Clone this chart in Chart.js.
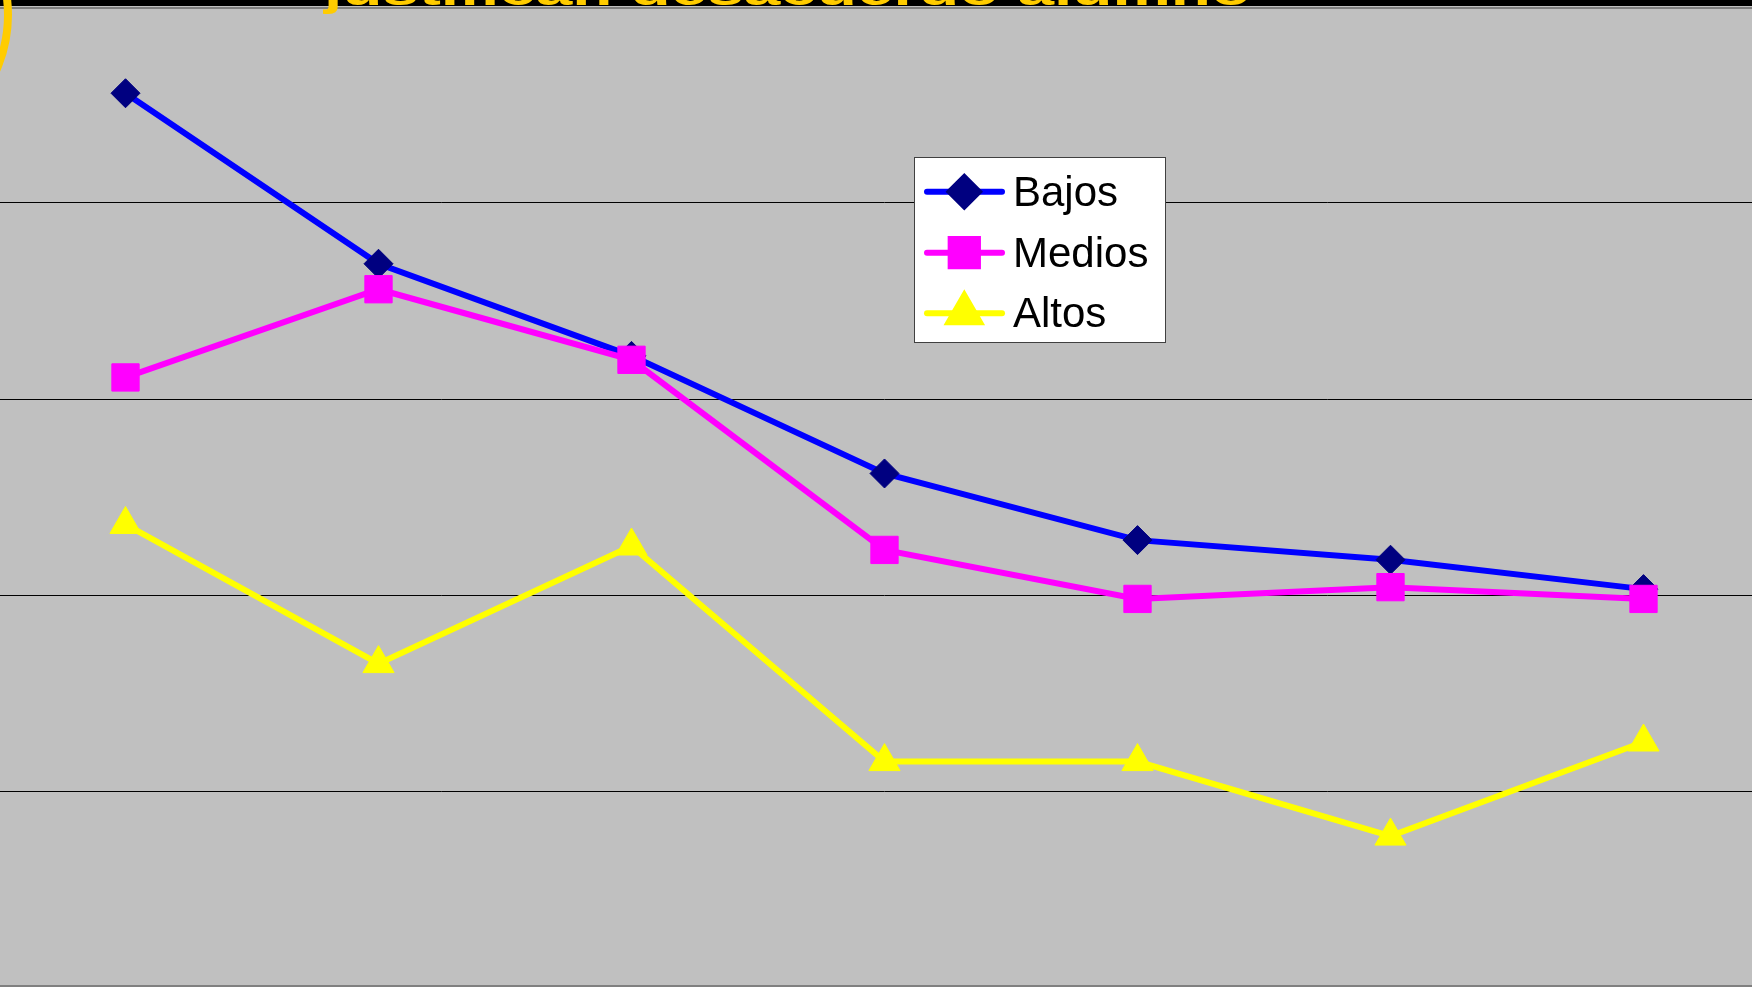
<!DOCTYPE html>
<html>
<head>
<meta charset="utf-8">
<script src="https://cdn.jsdelivr.net/npm/chart.js@4.4.1/dist/chart.umd.min.js"></script>
<style>
  html, body { margin:0; padding:0; background:#c0c0c0; width:1752px; height:987px; overflow:hidden; position:relative; }
  #topbar { position:absolute; left:0; top:0; width:1752px; height:6px; background:#000; }
  #title { position:absolute; left:324px; top:-32px; font-family:"Liberation Sans", Arial, sans-serif; font-weight:bold; font-size:44px; line-height:44px; color:#ffcc00; white-space:nowrap; transform-origin:0 0; z-index:5; }
  #arc { position:absolute; left:-268px; top:-125px; width:280px; height:280px; border:8px solid #ffcc00; border-radius:50%; box-sizing:border-box; z-index:5; }
  #wrap { position:absolute; left:-1px; top:7px; width:1771px; height:980px; }
</style>
</head>
<body>
<div id="topbar"></div>
<div id="title">justifican desacuerdo alumno</div>
<div id="arc"></div>
<div id="wrap"><canvas id="chart"></canvas></div>
<script>
// data
const categories = ['1', '2', '3', '4', '5', '6', '7'];
const bajos  = [45.6, 36.9, 32.2, 26.2, 22.8, 21.8, 20.3];
const medios = [31.1, 35.6, 32.0, 22.3, 19.8, 20.4, 19.8];
const altos  = [23.6, 16.5, 22.5, 11.5, 11.5, 7.7, 12.5];
const yTicks = [0, 10, 20, 30, 40, 50];

// stretch title to the width seen in the picture
const t = document.getElementById('title');
t.style.transform = 'scaleX(' + (927 / t.offsetWidth) + ')';

const legendBox = {
    id: 'legendBox',
    beforeDraw(chart) {
        const { ctx, chartArea: a } = chart;
        ctx.save();
        ctx.fillStyle = '#c0c0c0';
        ctx.fillRect(a.left, a.top, a.right - a.left, a.bottom - a.top);
        ctx.restore();
    },
    afterDraw(chart) {
        const ctx = chart.ctx;
        const a = chart.chartArea;
        ctx.save();
        // plot border
        ctx.strokeStyle = '#808080';
        ctx.lineWidth = 2;
        ctx.beginPath();
        ctx.moveTo(a.left, a.top + 1); ctx.lineTo(a.right, a.top + 1);
        ctx.moveTo(a.left, a.bottom - 1); ctx.lineTo(a.right, a.bottom - 1);
        ctx.stroke();

        // legend
        ctx.fillStyle = '#ffffff';
        ctx.fillRect(915.5, 150.5, 251, 185);
        ctx.strokeStyle = '#404040';
        ctx.lineWidth = 1;
        ctx.strokeRect(915.5, 150.5, 251, 185);
        const rows = [184.7, 245.7, 306.3];
        chart.data.datasets.forEach((ds, i) => {
            const y = rows[i];
            ctx.strokeStyle = ds.borderColor;
            ctx.lineWidth = 6;
            ctx.lineCap = 'round';
            ctx.beginPath();
            ctx.moveTo(928, y);
            ctx.lineTo(1003, y);
            ctx.stroke();
            ctx.fillStyle = ds.pointBackgroundColor;
            ctx.strokeStyle = ds.pointBorderColor;
            Chart.helpers.drawPoint(ctx, {
                pointStyle: ds.pointStyle,
                radius: ds.pointRadius,
                rotation: 0,
                borderWidth: 1
            }, 965.3, y);
            ctx.fillStyle = '#000';
            ctx.font = '42px "Liberation Sans", Arial, sans-serif';
            ctx.textBaseline = 'alphabetic';
            ctx.fillText(ds.label, 1014, y + 14);
        });
        ctx.restore();
    }
};

const ctx = document.getElementById('chart').getContext('2d');
const chart = new Chart(ctx, {
    type: 'line',
    data: {
        labels: categories,
        datasets: [
            {
                label: 'Bajos',
                data: bajos,
                borderColor: '#0000ff',
                borderWidth: 6,
                pointStyle: 'rectRot',
                pointRadius: 14.5,
                pointBackgroundColor: '#000080',
                pointBorderColor: '#000080',
                pointBorderWidth: 1,
                order: 3
            },
            {
                label: 'Medios',
                data: medios,
                borderColor: '#ff00ff',
                borderWidth: 6,
                pointStyle: 'rect',
                pointRadius: 19.3,
                pointBackgroundColor: '#ff00ff',
                pointBorderColor: '#ff00ff',
                pointBorderWidth: 1,
                order: 2
            },
            {
                label: 'Altos',
                data: altos,
                borderColor: '#ffff00',
                borderWidth: 6,
                pointStyle: 'triangle',
                pointRadius: 18,
                pointBackgroundColor: '#ffff00',
                pointBorderColor: '#ffff00',
                pointBorderWidth: 1,
                order: 1
            }
        ]
    },
    options: {
        responsive: true,
        maintainAspectRatio: false,
        animation: false,
        layout: { padding: 0, autoPadding: false },
        elements: { line: { tension: 0 } },
        plugins: {
            legend: { display: false },
            tooltip: { enabled: false }
        },
        scales: {
            x: {
                offset: true,
                grid: { display: false, drawTicks: false },
                border: { display: false },
                ticks: { display: false }
            },
            y: {
                min: yTicks[0],
                max: yTicks[yTicks.length - 1],
                afterBuildTicks: (s) => { s.ticks = yTicks.map(v => ({ value: v })); },
                grid: {
                    drawTicks: false,
                    color: (c) => (c.tick && (c.tick.value === 0 || c.tick.value === 50)) ? 'rgba(0,0,0,0)' : '#000000',
                    lineWidth: 1
                },
                border: { display: false },
                ticks: { display: false }
            }
        }
    },
    plugins: [legendBox]
});
</script>
</body>
</html>
